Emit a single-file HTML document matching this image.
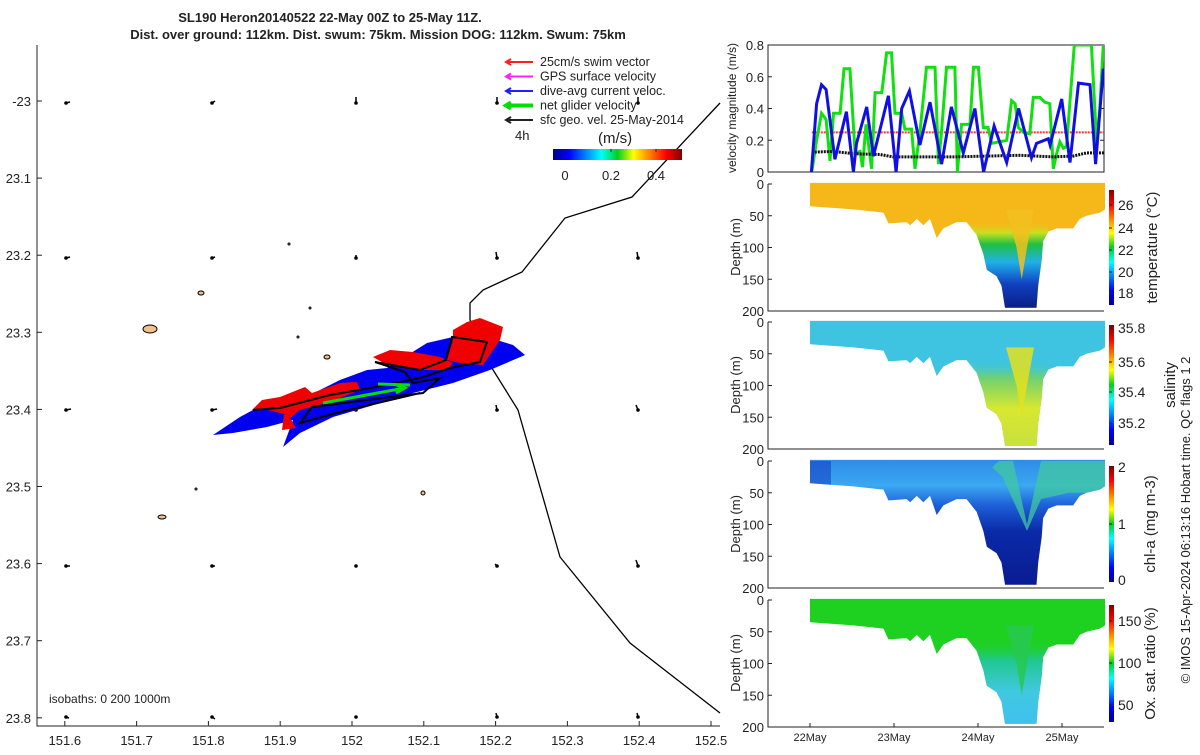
<!DOCTYPE html>
<html><head><meta charset="utf-8"><style>
body{margin:0;background:#fff;font-family:"Liberation Sans",sans-serif;}
svg text{font-family:"Liberation Sans","DejaVu Sans",sans-serif;fill:#222;}
</style></head><body>
<svg id="fig" width="1200" height="750" viewBox="0 0 1200 750" xmlns="http://www.w3.org/2000/svg">
<defs>
<linearGradient id="jet" x1="0" y1="1" x2="0" y2="0">
<stop offset="0" stop-color="#00008f"/><stop offset="0.125" stop-color="#0000ff"/><stop offset="0.375" stop-color="#00ffff"/><stop offset="0.5" stop-color="#00d020"/><stop offset="0.625" stop-color="#ffff00"/><stop offset="0.875" stop-color="#ff0000"/><stop offset="1" stop-color="#800000"/></linearGradient>
<linearGradient id="jeth" x1="0" y1="0" x2="1" y2="0">
<stop offset="0" stop-color="#00008f"/><stop offset="0.125" stop-color="#0000ff"/><stop offset="0.375" stop-color="#00ffff"/><stop offset="0.5" stop-color="#00d020"/><stop offset="0.625" stop-color="#ffff00"/><stop offset="0.875" stop-color="#ff0000"/><stop offset="1" stop-color="#800000"/></linearGradient>
<linearGradient id="gTemp" x1="0" y1="0" x2="0" y2="1">
<stop offset="0" stop-color="#f3c020" stop-opacity="0"/><stop offset="0.12" stop-color="#c8e020"/><stop offset="0.25" stop-color="#20c040"/><stop offset="0.45" stop-color="#20b0e8"/><stop offset="0.7" stop-color="#1040c0"/><stop offset="1" stop-color="#0a1a80"/></linearGradient>
<linearGradient id="gSal" x1="0" y1="0" x2="0" y2="1">
<stop offset="0" stop-color="#40c8d8" stop-opacity="0"/><stop offset="0.2" stop-color="#70d070"/><stop offset="0.55" stop-color="#d8e830"/><stop offset="1" stop-color="#c8e040"/></linearGradient>
<linearGradient id="gChl" x1="0" y1="0" x2="0" y2="1">
<stop offset="0" stop-color="#2f8ce8"/><stop offset="0.2" stop-color="#3aa8f0"/><stop offset="0.35" stop-color="#1e60d8"/><stop offset="0.55" stop-color="#0a2aa8"/><stop offset="1" stop-color="#0a1a90"/></linearGradient>
<linearGradient id="gOx" x1="0" y1="0" x2="0" y2="1">
<stop offset="0" stop-color="#20d020" stop-opacity="0"/><stop offset="0.25" stop-color="#20c890"/><stop offset="0.6" stop-color="#40c8e0"/><stop offset="1" stop-color="#40c0f0"/></linearGradient>
</defs>
</svg>
<script>
// ===== velocity data (hours since 22May 00Z) =====
const blueT=[0.4,1.9,3.3,4.6,7.1,10.4,12.4,13.3,16.2,18.1,22.4,24.6,26.2,28.4,31.4,34.3,37.6,40.4,43.8,47.1,49.6,52.6,56.2,59.6,63.3,64.7,68.1,68.6,71.9,74.3,76.7,80.0,81.6,83.8];
const blueV=[0,0.43,0.55,0.52,0.08,0.38,0,0.18,0.41,0.1,0.48,0,0.4,0.51,0.17,0.44,0.05,0.41,0.12,0.4,0,0.29,0.06,0.4,0.09,0.18,0.21,0.17,0.46,0.06,0.56,0.55,0.05,0.65];
const greenT=[0.5,1.9,3.3,4.6,5.7,6.7,8.6,9.7,11.4,12.9,14.3,15.0,16.0,17.6,18.6,20.5,21.9,23.3,24.3,26.2,27.1,29.0,30.0,31.4,33.3,35.7,36.7,37.6,39.0,41.4,42.1,43.3,45.7,46.7,48.1,49.5,50.9,51.9,56.2,57.6,58.6,59.5,61.0,62.8,63.8,65.7,67.1,68.5,69.5,70.5,71.4,72.4,73.3,75.5,80.4,81.9,82.8,83.8];
const greenV=[0,0.2,0.37,0.33,0.07,0.37,0.37,0.65,0.65,0.12,0.13,0.03,0.3,0.02,0.5,0.5,0.75,0.75,0.37,0.37,0.27,0.27,0.02,0.25,0.66,0.66,0.05,0.26,0.66,0.66,0,0.3,0.3,0.66,0.66,0.28,0.28,0.18,0.2,0.45,0.43,0.28,0.25,0.24,0.47,0.47,0.44,0.43,0.02,0.12,0.19,0.15,0.16,0.8,0.8,0.18,0.4,0.8];
const blackT=[0.5,6.7,12.4,20,23.8,41,60,69.5,75.2,79,84.3];
const blackV=[0.125,0.13,0.115,0.11,0.095,0.095,0.105,0.095,0.1,0.12,0.12];
const swimV=0.25;
// ===== section data =====
const profT=[0,12.4,21,22.4,27.6,28.6,30.5,32.4,34.3,36.2,38.1,41.9,44.7,47.6,49.5,50.5,53.3,54.7,55.7,64.7,65.2,66.2,66.6,68.1,70.5,75.2,77.1,79,82.8,84.3];
const profD=[35,40,45,62,60,65,55,65,55,85,70,60,60,80,110,135,145,160,195,195,160,120,90,75,70,70,55,50,45,40];
const velTicks=[0,0.2,0.4,0.6,0.8];
const depthTicks=[0,50,100,150,200];
const dayLabels=["22May","23May","24May","25May"];
const mapXTicks=[151.6,151.7,151.8,151.9,152,152.1,152.2,152.3,152.4,152.5];
const mapYTicks=[23,23.1,23.2,23.3,23.4,23.5,23.6,23.7,23.8];

const NS="http://www.w3.org/2000/svg";
const svg=document.getElementById('fig');
function el(tag,attrs,parent,txt){const e=document.createElementNS(NS,tag);for(const k in attrs)e.setAttribute(k,attrs[k]);if(txt!==undefined)e.textContent=txt;(parent||svg).appendChild(e);return e;}

const PX0=768,PX1=1104;
const xT=h=>810+h*3.5;
const yV=v=>172-v*(127/0.8);
const panels=[{name:'temperature',top:184},{name:'salinity',top:322},{name:'chl-a',top:461},{name:'oxygen',top:600}];
const yD=(p,d)=>p.top+d*(127/200);

// ---- titles
let t=el('text',{x:330,y:22,'text-anchor':'middle','font-size':13,'font-weight':'bold'},svg,'SL190 Heron20140522 22-May 00Z to 25-May 11Z.');

t=el('text',{x:378,y:39,'text-anchor':'middle','font-size':13,'font-weight':'bold'},svg,'Dist. over ground: 112km. Dist. swum: 75km. Mission DOG: 112km. Swum: 75km');


// ===== MAP =====
const MX=lon=>352+(lon-152)*718;
const MY=lat=>101+(lat-23)*771;
const map=el('g',{});

el('rect',{x:37,y:45,width:683,height:681,fill:'#fff',stroke:'none'},map);
[[150,329,7,4],[201,293,3,2],[327,357,3,2],[162,517,4,2],[423,493,2,2],[289,244,1,1],[310,308,1,1],[298,337,1,1],[196,489,1,1]].forEach(a=>{const e=el('ellipse',{cx:a[0],cy:a[1],rx:a[2],ry:a[3],fill:'#f4c08a',stroke:'#000','stroke-width':1},map);});
let iso=el('polyline',{points:'720,103 632,197 565,218 522,272 483,290 470,303 470,320 478,335',fill:'none',stroke:'#000','stroke-width':1.3},map);

iso=el('polyline',{points:'490,365 518,410 560,557 630,643 720,713',fill:'none',stroke:'#000','stroke-width':1.3},map);

const ax=[66,212,356,497,638],ay=[103,258,410,566,717];
const adx=[[4,3,0,0,0],[4,3,0,-1,-1],[5,5,0,-1,-2],[4,3,0,-2,-2],[3,3,0,-1,-1]];
const ady=[[-1,-2,-6,-6,-6],[-1,-1,-3,-6,-6],[-1,-1,-5,-5,-5],[0,0,-1,-2,-6],[1,2,1,-4,-4]];
ay.forEach((y,i)=>ax.forEach((x,j)=>{const g=el('g',{},map);el('line',{x1:x,y1:y,x2:x+adx[i][j],y2:y+ady[i][j],stroke:'#000','stroke-width':1.5},g);el('circle',{cx:x,cy:y,r:1.8,fill:'#000'},g);}));
let b=el('polygon',{points:'213,435 240,417 253,410 300,400 340,380 367,370 387,368 427,343 453,337 490,338 513,345 525,355 490,370 453,383 413,393 367,407 333,417 300,433 283,447 293,420 267,427 233,433',fill:'#0000f0'},map);

[['252,410 262,400 280,397 305,387 312,393 340,383 357,382 360,390 330,402 300,410 290,418 296,428 282,430 284,414 268,410'],['373,357 390,350 413,352 440,357 453,363 447,370 413,370 387,365'],['453,330 467,322 480,318 503,327 500,340 483,365 460,363 447,360 453,340']].forEach(p=>{const r=el('polygon',{points:p[0],fill:'#f00000'},map);});
let tr=el('polyline',{points:'253,410 280,408 330,395 370,388 420,378 450,368 480,362 487,342 452,337 446,360 420,370 375,362 405,372 413,383 440,378 423,393 312,407 300,423 340,412 420,393',fill:'none',stroke:'#000','stroke-width':2},map);

let gr=el('path',{d:'M323,403 L405,388 M394,384 L405,388 L396,393 M378,384 L410,385',fill:'none',stroke:'#00e000','stroke-width':3},map);

const mb=el('path',{d:'M37,45 V726 H720',fill:'none',stroke:'#222','stroke-width':1},map);

mapXTicks.forEach(v=>{const x=MX(v);el('line',{x1:x,y1:726,x2:x,y2:721,stroke:'#222'},map);const tx=el('text',{x:x,y:745,'text-anchor':'middle','font-size':13},map,String(v));});
mapYTicks.forEach(v=>{const y=MY(v);el('line',{x1:37,y1:y,x2:42,y2:y,stroke:'#222'},map);const tx=el('text',{x:31,y:y+5,'text-anchor':'end','font-size':13},map,v===23?'-23':String(v));});
t=el('text',{x:49,y:703,'font-size':12},map,'isobaths: 0   200   1000m');t.setAttribute('xml:space','preserve');
const leg=el('g',{},map);
[['#ff2020','25cm/s swim vector',2],['#ff20ff','GPS surface velocity',2],['#2020ff','dive-avg current veloc.',2],['#00e000','net glider velocity',4],['#222','sfc geo. vel. 25-May-2014',2]].forEach((r,i)=>{const y=62+i*14.5;const g=el('g',{},leg);el('path',{d:`M506,${y} H533 M511,${y-3} L506,${y} L511,${y+3}`,stroke:r[0],'stroke-width':r[2],fill:'none'},g);el('text',{x:540,y:y+4,'font-size':12.5},g,r[1]);});
t=el('text',{x:515,y:140,'font-size':13},map,'4h');
t=el('text',{x:598,y:143,'font-size':15},map,'(m/s)');
const cb=el('rect',{x:553,y:149,width:129,height:11,fill:'url(#jeth)'},map);
[[565,'0'],[611,'0.2'],[656,'0.4']].forEach(a=>{el('line',{x1:a[0],y1:149,x2:a[0],y2:152,stroke:'#222'},map);const tx=el('text',{x:a[0],y:180,'text-anchor':'middle','font-size':13},map,a[1]);});

// ===== VELOCITY PANEL =====
const vp=el('g',{});
el('rect',{x:PX0,y:45,width:PX1-PX0,height:127,fill:'#fff',stroke:'#222'},vp);
velTicks.forEach(v=>{const y=yV(v);el('line',{x1:PX0,y1:y,x2:PX0+4,y2:y,stroke:'#222'},vp);el('line',{x1:PX1,y1:y,x2:PX1-4,y2:y,stroke:'#222'},vp);const tx=el('text',{x:764,y:y+5,'text-anchor':'end','font-size':13},vp,String(v));});
t=el('text',{transform:'translate(736,108) rotate(-90)','text-anchor':'middle','font-size':12},vp,'velocity magnitude (m/s)');
const vclip=el('clipPath',{id:'vclip'},vp);el('rect',{x:PX0,y:45,width:PX1-PX0,height:127},vclip);
const pts=(T,V)=>T.map((h,i)=>xT(h).toFixed(1)+','+yV(V[i]).toFixed(1)).join(' ');
let l=el('line',{x1:xT(0.5),y1:yV(swimV),x2:PX1,y2:yV(swimV),stroke:'#ff3030','stroke-width':2,'stroke-dasharray':'2,1'},vp);
l=el('polyline',{points:pts(greenT,greenV),fill:'none',stroke:'#10e010','stroke-width':3,'clip-path':'url(#vclip)'},vp);
l=el('polyline',{points:pts(blackT,blackV),fill:'none',stroke:'#111','stroke-width':3,'stroke-dasharray':'2,1'},vp);
l=el('polyline',{points:pts(blueT,blueV),fill:'none',stroke:'#1010e0','stroke-width':3,'clip-path':'url(#vclip)'},vp);

// ===== SECTIONS =====
const cfg={
 temperature:{base:'#f5b818',grad:'url(#gTemp)',wedge:'#f2c020',label:'temperature (°C)',ticks:[['26',205],['24',228],['22',250],['20',272],['18',293]],cb:[190,305],lx:1152},
 salinity:{base:'#3ec4e0',grad:'url(#gSal)',wedge:'#e4e020',label:'salinity',ticks:[['35.8',328],['35.6',362],['35.4',392],['35.2',423]],cb:[325,445],lx:1170},
 'chl-a':{base:'url(#gChl)',grad:null,wedge:'#40c8a0',label:'chl-a (mg m-3)',ticks:[['2',467],['1',524],['0',580]],cb:[466,582],lx:1150},
 oxygen:{base:'#1ed020',grad:'url(#gOx)',wedge:'#28c850',label:'Ox. sat. ratio (%)',ticks:[['150',621],['100',663],['50',705]],cb:[605,722],lx:1150}
};
panels.forEach((p,pi)=>{
 const c=cfg[p.name];
 const g=el('g',{});
 const cid='clip'+pi;const cp=el('clipPath',{id:cid},g);
 let poly=xT(0)+','+yD(p,-2)+' '+xT(84.3)+','+yD(p,-2)+' ';
 for(let i=profT.length-1;i>=0;i--)poly+=xT(profT[i]).toFixed(1)+','+yD(p,profD[i]).toFixed(1)+' ';
 el('polygon',{points:poly},cp);
 const data=el('g',{'clip-path':`url(#${cid})`},g);
 if(p.name==='chl-a'){
  el('rect',{x:809,y:yD(p,-2),width:296,height:130,fill:'url(#gChl)'},data);
  el('polygon',{points:`${xT(54)},${yD(p,0)} ${xT(58)},${yD(p,0)} ${xT(62)},${yD(p,100)} ${xT(66)},${yD(p,0)} ${xT(84.3)},${yD(p,0)} ${xT(84.3)},${yD(p,50)} ${xT(74)},${yD(p,50)} ${xT(66)},${yD(p,60)} ${xT(62)},${yD(p,110)} ${xT(55)},${yD(p,25)} ${xT(52)},${yD(p,10)}`,fill:c.wedge,opacity:0.75},data);
  el('rect',{x:xT(0),y:yD(p,0),width:xT(6)-xT(0),height:25,fill:'#1030c0',opacity:0.5},data);
 } else {
  el('rect',{x:809,y:yD(p,-2),width:296,height:130,fill:c.base},data);
  el('rect',{x:xT(45),y:yD(p,60),width:xT(68)-xT(45),height:yD(p,200)-yD(p,60),fill:c.grad},data);
  el('polygon',{points:`${xT(56)},${yD(p,40)} ${xT(64)},${yD(p,40)} ${xT(62)},${yD(p,100)} ${xT(60.5)},${yD(p,150)} ${xT(59)},${yD(p,100)}`,fill:c.wedge,opacity:0.85},data);
 }
 el('path',{d:`M${PX0},${p.top} V${p.top+127} H${PX1}`,fill:'none',stroke:'#222'},g);
 depthTicks.forEach(d=>{const y=yD(p,d);el('line',{x1:PX0,y1:y,x2:PX0+4,y2:y,stroke:'#222'},g);const tx=el('text',{x:764,y:y+5,'text-anchor':'end','font-size':13},g,String(d));});
 const yl=el('text',{transform:`translate(740,${p.top+63}) rotate(-90)`,'text-anchor':'middle','font-size':13},g,'Depth (m)');
 const bar=el('rect',{x:1109,y:c.cb[0],width:5,height:c.cb[1]-c.cb[0],fill:'url(#jet)'},g);
 c.ticks.forEach(tk=>{el('line',{x1:1109,y1:tk[1],x2:1112,y2:tk[1],stroke:'#222'},g);const tx=el('text',{x:1118,y:tk[1]+5,'font-size':14},g,tk[0]);});
 const cl=el('text',{transform:`translate(${c.lx+5},${(c.cb[0]+c.cb[1])/2}) rotate(-90)`,'text-anchor':'middle','font-size':15},g,c.label);
});
dayLabels.forEach((d,i)=>{const x=xT(i*24);el('line',{x1:x,y1:727,x2:x,y2:723,stroke:'#222'});const tx=el('text',{x:x,y:741,'text-anchor':'middle','font-size':11},svg,d);});
t=el('text',{transform:'translate(1190,520) rotate(-90)','text-anchor':'middle','font-size':13},svg,'© IMOS 15-Apr-2024 06:13:16 Hobart time. QC flags 1  2');t.setAttribute('xml:space','preserve');
</script>
</body></html>
